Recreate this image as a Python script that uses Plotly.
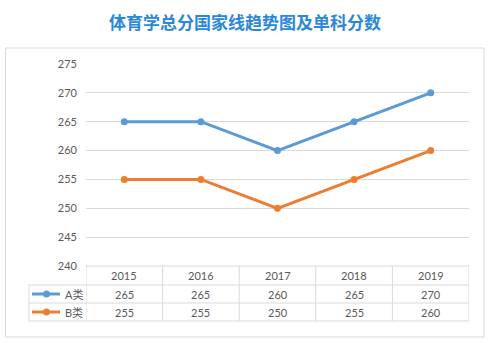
import plotly.graph_objects as go

years = ["2015", "2016", "2017", "2018", "2019"]
series_names = ["A类", "B类"]
a_values = [265, 265, 260, 265, 270]
b_values = [255, 255, 250, 255, 260]
colors = ["#5B9BD5", "#ED7D31"]
title_text = "体育学总分国家线趋势图及单科分数"

W, H = 490, 343
def px(x):
    return x / W
def py(y):
    return 1 - y / H

grid = "#d9d9d9"
txt = "#595959"
font_num = "Lato, 'Noto Sans CJK SC', sans-serif"

x_idx = list(range(len(years)))
fig = go.Figure()
for name, vals, c in zip(series_names, [a_values, b_values], colors):
    fig.add_trace(go.Scatter(x=x_idx, y=vals, mode="lines+markers", name=name,
                             line=dict(color=c, width=3),
                             marker=dict(color=c, size=7), showlegend=False))

shapes = []
annotations = []
shapes.append(dict(type="rect", xref="paper", yref="paper", x0=px(5.5), x1=px(484), y0=py(337), y1=py(48),
                   line=dict(color=grid, width=1)))
row_tops = [266, 285, 303, 321]
label_left = 29
for i, y in enumerate(row_tops):
    shapes.append(dict(type="line", xref="x", yref="paper", x0=-0.5, x1=len(years) - 0.5,
                       y0=py(y), y1=py(y), line=dict(color=grid, width=1)))
    if i >= 1:
        shapes.append(dict(type="line", xref="paper", yref="paper", x0=px(label_left), x1=px(86),
                           y0=py(y), y1=py(y), line=dict(color=grid, width=1)))
for k in range(len(years) + 1):
    shapes.append(dict(type="line", xref="x", yref="paper", x0=k - 0.5, x1=k - 0.5,
                       y0=py(row_tops[0]), y1=py(row_tops[-1]), line=dict(color=grid, width=1)))
shapes.append(dict(type="line", xref="paper", yref="paper", x0=px(label_left), x1=px(label_left),
                   y0=py(row_tops[1]), y1=py(row_tops[-1]), line=dict(color=grid, width=1)))

hc = (row_tops[0] + row_tops[1]) / 2
for i, yr in enumerate(years):
    annotations.append(dict(x=i, y=py(hc), xref="x", yref="paper", text=yr, showarrow=False,
                            yanchor="middle", xanchor="center",
                            font=dict(size=11, color=txt, family=font_num)))
for r, (name, vals, c) in enumerate(zip(series_names, [a_values, b_values], colors)):
    yc = (row_tops[r + 1] + row_tops[r + 2]) / 2
    for i, v in enumerate(vals):
        annotations.append(dict(x=i, y=py(yc), xref="x", yref="paper", text=str(v), showarrow=False,
                                yanchor="middle", xanchor="center",
                                font=dict(size=11, color=txt, family=font_num)))
    shapes.append(dict(type="line", xref="paper", yref="paper", x0=px(32), x1=px(60),
                       y0=py(yc), y1=py(yc), line=dict(color=c, width=3)))
    shapes.append(dict(type="circle", xref="paper", yref="paper", x0=px(43), x1=px(50),
                       y0=py(yc + 3.5), y1=py(yc - 3.5), fillcolor=c, line=dict(color=c, width=0)))
    annotations.append(dict(x=px(63), y=py(yc), xref="paper", yref="paper", text=name, showarrow=False,
                            xanchor="left", yanchor="middle",
                            font=dict(size=11, color=txt, family=font_num)))

annotations.append(dict(x=0.5, y=py(22), xref="paper", yref="paper", text="<b>" + title_text + "</b>",
                        showarrow=False, xanchor="center", yanchor="middle",
                        font=dict(size=17, color="#2B88D8", family="'Noto Sans CJK SC', sans-serif")))

fig.update_layout(
    width=W, height=H, margin=dict(l=0, r=0, t=0, b=0, autoexpand=False),
    paper_bgcolor="white", plot_bgcolor="white",
    xaxis=dict(domain=[px(86), px(469)], range=[-0.5, len(years) - 0.5], showgrid=False,
               showticklabels=False, zeroline=False, showline=False, fixedrange=True, automargin=False),
    yaxis=dict(domain=[py(266), py(64)], range=[240, 275], dtick=5, tick0=240,
               gridcolor=grid, gridwidth=1, zeroline=False, showline=False, automargin=False,
               tickfont=dict(size=11, color=txt, family=font_num), ticklabelstandoff=8),
    shapes=shapes, annotations=annotations, showlegend=False,
)
fig.write_html("out.html")
